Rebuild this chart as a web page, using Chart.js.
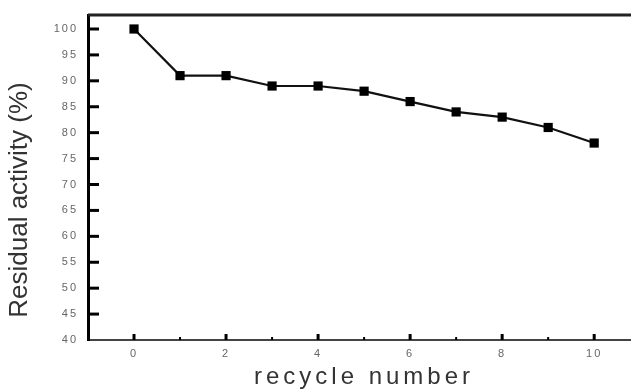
<!DOCTYPE html>
<html>
<head>
<meta charset="utf-8">
<script src="https://cdn.jsdelivr.net/npm/chart.js@4"></script>
<style>
  html, body { margin: 0; padding: 0; background: #fff; }
  #wrap { width: 631px; height: 392px; }
</style>
</head>
<body>
<div id="wrap"><canvas id="chart" width="631" height="392"></canvas></div>
<script>
// data
const CYCLES   = [0, 1, 2, 3, 4, 5, 6, 7, 8, 9, 10];
const ACTIVITY = [100, 91, 91, 89, 89, 88, 86, 84, 83, 81, 78];
const X_TICKS  = [0, 2, 4, 6, 8, 10];
const X_MINOR  = [1, 3, 5, 7, 9];
const Y_TICKS  = [40, 45, 50, 55, 60, 65, 70, 75, 80, 85, 90, 95, 100];
const X_TITLE  = 'recycle number';
const Y_TITLE  = 'Residual activity (%)';

const FONT = "'Liberation Sans', Arial, sans-serif";

// letter spacing for the tick labels
const spacing = {
  id: 'spacing',
  beforeDraw(chart) { chart.ctx.letterSpacing = '2px'; }
};

// frame, inside tick marks and axis titles
const frame = {
  id: 'frame',
  afterDraw(chart) {
    const ctx = chart.ctx, a = chart.chartArea;
    const xs = chart.scales.x, ys = chart.scales.y;
    ctx.save();
    ctx.letterSpacing = '0px';
    // top line
    ctx.strokeStyle = '#222';
    ctx.lineWidth = 3;
    ctx.beginPath();
    ctx.moveTo(a.left, a.top);
    ctx.lineTo(chart.width, a.top);
    ctx.stroke();

    // y ticks, pointing inwards
    ctx.strokeStyle = '#000';
    ctx.lineWidth = 3;
    Y_TICKS.forEach(v => {
      if (v === 40) return;
      const y = ys.getPixelForValue(v);
      ctx.beginPath();
      ctx.moveTo(a.left, y);
      ctx.lineTo(a.left + 11, y);
      ctx.stroke();
    });
    // x ticks
    X_TICKS.forEach(v => {
      const x = xs.getPixelForValue(v);
      ctx.beginPath();
      ctx.moveTo(x, a.bottom);
      ctx.lineTo(x, a.bottom - 6);
      ctx.stroke();
    });
    ctx.lineWidth = 2;
    X_MINOR.forEach(v => {
      const x = xs.getPixelForValue(v);
      ctx.beginPath();
      ctx.moveTo(x, a.bottom);
      ctx.lineTo(x, a.bottom - 3);
      ctx.stroke();
    });

    // axis titles
    ctx.fillStyle = '#333';
    ctx.textAlign = 'center';
    ctx.textBaseline = 'middle';
    ctx.font = '24px ' + FONT;
    ctx.letterSpacing = '4px';
    ctx.fillText(X_TITLE, 364, 377);

    ctx.letterSpacing = '0px';
    ctx.font = '26px ' + FONT;
    ctx.translate(20, 200);
    ctx.rotate(-Math.PI / 2);
    ctx.fillText(Y_TITLE, 0, 0);
    ctx.restore();
  }
};

new Chart(document.getElementById('chart'), {
  type: 'line',
  data: {
    datasets: [{
      data: CYCLES.map((c, i) => ({ x: c, y: ACTIVITY[i] })),
      borderColor: '#111',
      borderWidth: 2.2,
      tension: 0,
      pointStyle: 'rect',
      pointRadius: 6.5,
      pointBackgroundColor: '#000',
      pointBorderWidth: 0,
      clip: false
    }]
  },
  options: {
    responsive: false,
    animation: false,
    layout: { autoPadding: false, padding: { top: 15, right: 0, left: 0, bottom: 0 } },
    plugins: { legend: { display: false }, tooltip: { enabled: false } },
    scales: {
      x: {
        type: 'linear',
        min: -1,
        max: 10.8,
        grid: { display: false, drawTicks: false },
        border: { display: true, color: '#444', width: 2 },
        afterBuildTicks: (s) => { s.ticks = X_TICKS.map(v => ({ value: v })); },
        afterFit: (s) => { s.height = 52; s.paddingLeft = 0; s.paddingRight = 0; },
        ticks: { color: '#666', padding: 7, font: { family: FONT, size: 11 } }
      },
      y: {
        min: 40,
        max: 102.7,
        grid: { display: false, drawTicks: false },
        border: { display: true, color: '#000', width: 3 },
        afterBuildTicks: (s) => { s.ticks = Y_TICKS.map(v => ({ value: v })); },
        afterFit: (s) => { s.width = 88; s.paddingTop = 0; s.paddingBottom = 0; },
        ticks: { color: '#666', padding: 10, font: { family: FONT, size: 11 } }
      }
    }
  },
  plugins: [spacing, frame]
});
</script>
</body>
</html>
